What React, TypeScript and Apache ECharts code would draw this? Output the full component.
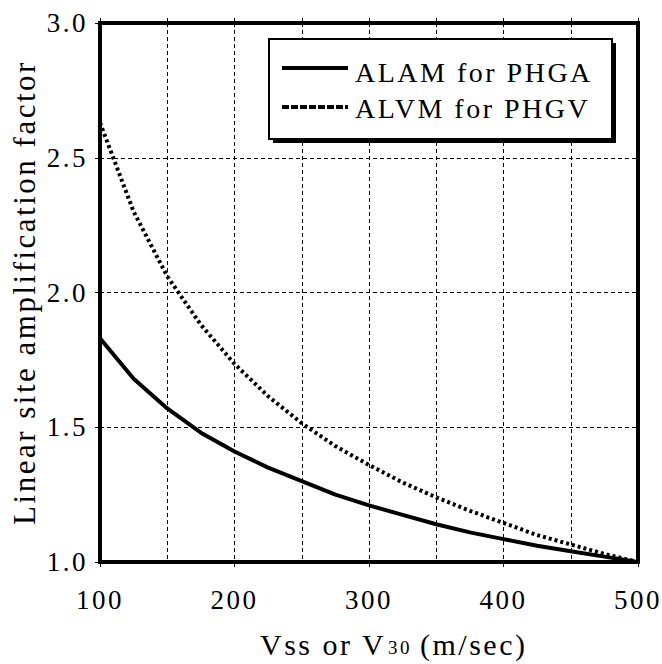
import React, { useEffect, useRef } from "react";
import * as echarts from "echarts";

const vss = [100, 125, 150, 175, 200, 225, 250, 275, 300, 325, 350, 375, 400, 425, 450, 475, 500];
const alam = [1.83, 1.68, 1.57, 1.48, 1.41, 1.35, 1.30, 1.25, 1.21, 1.175, 1.14, 1.11, 1.085, 1.06, 1.04, 1.02, 1.0];
const alvm = [2.63, 2.30, 2.06, 1.88, 1.735, 1.615, 1.515, 1.43, 1.36, 1.295, 1.24, 1.19, 1.145, 1.10, 1.065, 1.03, 1.0];
const seriesNames = ["ALAM for PHGA", "ALVM for PHGV"];
const xTicks = [100, 200, 300, 400, 500];
const yTicks = [1.0, 1.5, 2.0, 2.5, 3.0];

const FONT = "Liberation Serif";

export default function App() {
  const ref = useRef<HTMLDivElement>(null);
  useEffect(() => {
    if (!ref.current) return;
    const chart = echarts.init(ref.current, null, { renderer: "svg" });
    const dashed = { color: "#000", width: 1, type: [4, 3] as any };
    const option: any = {
      animation: false,
      backgroundColor: "#fff",
      textStyle: { fontFamily: FONT, color: "#000" },
      grid: {
        left: 100, right: 24, top: 23, bottom: 102,
        show: true, borderColor: "#000", borderWidth: 4, backgroundColor: "transparent",
      },
      xAxis: [
        {
          type: "value",
          min: xTicks[0],
          max: xTicks[xTicks.length - 1],
          interval: 100,
          axisLine: { show: true, lineStyle: { color: "#000", width: 4 } },
          axisTick: { show: true, length: 5, lineStyle: { color: "#000", width: 1 } },
          axisLabel: { margin: 24, fontSize: 27, color: "#000", fontFamily: FONT },
          splitLine: { show: true, lineStyle: dashed },
          minorTick: { show: false, splitNumber: 2 },
          minorSplitLine: { show: true, lineStyle: dashed },
        },
        {
          type: "value",
          position: "top",
          min: xTicks[0],
          max: xTicks[xTicks.length - 1],
          interval: 50,
          axisLine: { show: true, lineStyle: { color: "#000", width: 4 } },
          axisTick: { show: true, length: 5, lineStyle: { color: "#000", width: 1 } },
          axisLabel: { show: false },
          splitLine: { show: false },
        },
      ],
      yAxis: {
        type: "value",
        min: yTicks[0],
        max: yTicks[yTicks.length - 1],
        interval: 0.5,
        name: "Linear site amplification factor",
        nameLocation: "middle",
        nameGap: 60,
        nameTextStyle: { fontSize: 31, color: "#000", fontFamily: FONT },
        axisLine: { show: true, lineStyle: { color: "#000", width: 4 } },
        axisTick: { show: true, length: 5, lineStyle: { color: "#000", width: 1 } },
        axisLabel: {
          margin: 12, fontSize: 27, color: "#000", fontFamily: FONT,
          formatter: (v: number) => v.toFixed(1),
        },
        splitLine: { show: true, lineStyle: dashed },
      },
      series: [
        {
          name: seriesNames[0],
          type: "line",
          xAxisIndex: 0,
          data: vss.map((x, i) => [x, alam[i]]),
          showSymbol: false,
          lineStyle: { color: "#000", width: 4, join: "round" },
          z: 5,
        },
        {
          name: seriesNames[1],
          type: "line",
          xAxisIndex: 0,
          data: vss.map((x, i) => [x, alvm[i]]),
          showSymbol: false,
          lineStyle: { color: "#000", width: 4, type: [3, 3], cap: "butt" },
          z: 5,
        },
      ],
      graphic: [
        { type: "rect", shape: { x: 273, y: 43, width: 343, height: 100 }, style: { fill: "#000" }, z: 10 },
        { type: "rect", shape: { x: 269, y: 39, width: 343, height: 100 }, style: { fill: "#fff", stroke: "#000", lineWidth: 2 }, z: 11 },
        { type: "line", shape: { x1: 282, y1: 68, x2: 348, y2: 68 }, style: { stroke: "#000", lineWidth: 4 }, z: 12 },
        { type: "line", shape: { x1: 282, y1: 107, x2: 348, y2: 107 }, style: { stroke: "#000", lineWidth: 4, lineDash: [7, 2] }, z: 12 },
        { type: "text", x: 355, y: 72, style: { text: seriesNames[0], fontSize: 28, fontFamily: FONT, fill: "#000", align: "left", verticalAlign: "middle" }, z: 12 },
        { type: "text", x: 355, y: 108, style: { text: seriesNames[1], fontSize: 28, fontFamily: FONT, fill: "#000", align: "left", verticalAlign: "middle" }, z: 12 },
        { type: "text", x: 260, y: 644, style: { text: "Vss or V", fontSize: 30, fontFamily: FONT, fill: "#000", align: "left", verticalAlign: "middle" } },
        { type: "text", x: 388, y: 647, style: { text: "30", fontSize: 19, fontFamily: FONT, fill: "#000", align: "left", verticalAlign: "middle" } },
        { type: "text", x: 420, y: 644, style: { text: "(m/sec)", fontSize: 30, fontFamily: FONT, fill: "#000", align: "left", verticalAlign: "middle" } },
      ],
    };
    chart.setOption(option);
    return () => chart.dispose();
  }, []);
  return (
    <>
      <style>{`.chart-root text { font-family: "Liberation Serif" !important; }`}</style>
      <div
        ref={ref}
        className="chart-root"
        style={{ position: "fixed", left: 0, top: 0, width: 662, height: 664, letterSpacing: "2.5px", background: "#fff" }}
      />
    </>
  );
}
